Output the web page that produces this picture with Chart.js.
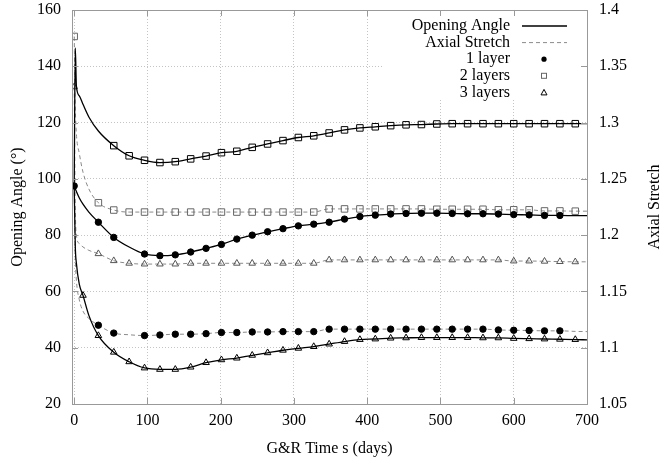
<!DOCTYPE html>
<html>
<head>
<meta charset="utf-8">
<script src="https://cdn.jsdelivr.net/npm/chart.js@4/dist/chart.umd.min.js"></script>
<style>
  html, body { margin: 0; padding: 0; background: #fff; }
</style>
</head>
<body>
<canvas id="chart" width="667" height="461"></canvas>
<script>
// G&R time (days)
const days = [0, 1.5, 3, 7, 12, 20, 33, 54, 75, 96, 117, 138, 159, 180, 201, 222, 243, 264, 285, 306, 327,
  348, 369, 390, 411, 432, 453, 474, 495, 516, 537, 558, 579, 600, 621, 642, 663, 684, 700];

// opening angle (degrees), left axis
const angle1 = [97.5, 96.5, 95.5, 93.2, 91, 88.2, 84.6, 79.2, 75.8, 73.3, 72.7, 73.0, 74.0, 75.3, 76.7, 78.6,
  80.0, 81.2, 82.3, 83.3, 83.9, 84.6, 85.7, 86.6, 87.1, 87.5, 87.7, 87.8, 87.8, 87.7, 87.6, 87.6, 87.5, 87.3,
  87.2, 87.0, 87.0, 86.9, 86.9];
const angle2 = [97.5, 146.5, 133, 129.5, 126.5, 122, 117, 111.8, 108.2, 106.6, 105.8, 106.1, 107.1, 108.1, 109.3,
  109.8, 111.2, 112.4, 113.6, 114.7, 115.3, 116.3, 117.4, 118.1, 118.5, 118.9, 119.2, 119.3, 119.5, 119.6,
  119.6, 119.6, 119.6, 119.6, 119.6, 119.6, 119.6, 119.6, 119.6];
const angle3 = [97.5, 76, 70, 62.5, 58.6, 51.5, 44.3, 38.4, 35.0, 32.8, 32.3, 32.3, 33.1, 34.7, 35.7, 36.3,
  37.3, 38.2, 39.1, 39.8, 40.4, 41.3, 42.2, 42.9, 43.1, 43.4, 43.5, 43.6, 43.6, 43.6, 43.6, 43.5, 43.5, 43.3,
  43.2, 43.1, 43.0, 42.9, 42.8];

// axial stretch, right axis
const stretch1 = [1.2438, 1.18, 1.16, 1.1425, 1.1325, 1.126, 1.12, 1.113, 1.1115, 1.1108, 1.1113, 1.112, 1.112,
  1.1125, 1.1135, 1.1135, 1.114, 1.114, 1.1143, 1.1143, 1.1143, 1.1165, 1.1165, 1.1165, 1.1165, 1.1165, 1.1165,
  1.1165, 1.1165, 1.1165, 1.1165, 1.1165, 1.1158, 1.1155, 1.1153, 1.115, 1.115, 1.1145, 1.1143];
const stretch2 = [1.3765, 1.314, 1.29, 1.2725, 1.256, 1.241, 1.2288, 1.2223, 1.2205, 1.2205, 1.2205, 1.2205,
  1.2205, 1.2205, 1.2205, 1.2205, 1.2205, 1.2205, 1.2205, 1.2205, 1.2205, 1.2233, 1.2233, 1.2233, 1.2233,
  1.2233, 1.2233, 1.2233, 1.223, 1.223, 1.223, 1.223, 1.2225, 1.2225, 1.2225, 1.2215, 1.2215, 1.2213, 1.2213];
const stretch3 = [1.3318, 1.225, 1.2, 1.1925, 1.1895, 1.1865, 1.1835, 1.1773, 1.175, 1.1743, 1.1743, 1.1743,
  1.175, 1.175, 1.175, 1.175, 1.175, 1.175, 1.175, 1.175, 1.175, 1.178, 1.178, 1.178, 1.178, 1.178, 1.178,
  1.178, 1.178, 1.178, 1.178, 1.178, 1.178, 1.177, 1.177, 1.1768, 1.1765, 1.1763, 1.1763];

// days that carry a marker
const markDays = [33, 54, 75, 96, 117, 138, 159, 180, 201, 222, 243, 264, 285, 306, 327, 348, 369, 390, 411,
  432, 453, 474, 495, 516, 537, 558, 579, 600, 621, 642, 663, 684];
const marks1 = markDays.filter(d => d !== 75 && d !== 684);

const xTicks = [0, 100, 200, 300, 400, 500, 600, 700];
const yTicks = [20, 40, 60, 80, 100, 120, 140, 160];
const y2Ticks = [1.05, 1.1, 1.15, 1.2, 1.25, 1.3, 1.35, 1.4];
const y2Labels = ['1.05', '1.1', '1.15', '1.2', '1.25', '1.3', '1.35', '1.4'];

const FONT = 'Liberation Serif, Times New Roman, serif';
const GRAY = '#8a8a8a';

function series(label, values, axis, marks, s) {
  return {
    label: label,
    yAxisID: axis,
    data: days.map((d, i) => ({x: d, y: values[i]})),
    borderColor: s.line,
    borderWidth: s.width,
    borderDash: s.dash || [],
    pointStyle: s.shape,
    pointBackgroundColor: s.fill,
    pointBorderColor: s.edge,
    pointBorderWidth: 1,
    pointRadius: ctx => (ctx.raw && marks.includes(ctx.raw.x)) ? s.size : 0,
    cubicInterpolationMode: 'monotone',
    fill: false
  };
}

const solid = {line: '#000', width: 1.3};
const dashed = {line: GRAY, width: 1, dash: [4, 3]};

const datasets = [
  series('1 layer', angle1, 'y', [0].concat(marks1), {...solid, shape: 'circle', fill: '#000', edge: '#000', size: 3.2}),
  series('2 layers', angle2, 'y', markDays.filter(d => d !== 33), {...solid, shape: 'rect', fill: 'rgba(0,0,0,0)', edge: '#000', size: 4.6}),
  series('3 layers', angle3, 'y', [12].concat(markDays), {...solid, shape: 'triangle', fill: 'rgba(0,0,0,0)', edge: '#000', size: 3.8}),
  series('1 layer AS', stretch1, 'y1', marks1, {...dashed, shape: 'circle', fill: '#000', edge: '#000', size: 3.2}),
  series('2 layers AS', stretch2, 'y1', [0].concat(markDays), {...dashed, shape: 'rect', fill: 'rgba(0,0,0,0)', edge: '#666', size: 4.6}),
  series('3 layers AS', stretch3, 'y1', [0].concat(markDays), {...dashed, shape: 'triangle', fill: 'rgba(0,0,0,0)', edge: '#555', size: 3.8})
];

const legendRows = [
  {text: 'Opening Angle', kind: 'solid'},
  {text: 'Axial Stretch', kind: 'dashed'},
  {text: '1 layer', kind: 'circle'},
  {text: '2 layers', kind: 'rect'},
  {text: '3 layers', kind: 'triangle'}
];

// box, inward ticks, right title and gnuplot-like key
const decor = {
  id: 'decor',
  beforeDatasetsDraw(chart) {
    const {ctx, chartArea} = chart;
    ctx.save();
    ctx.fillStyle = '#fff';
    ctx.fillRect(382, chartArea.top + 1, chartArea.right - 383, 89);
    ctx.restore();
  },
  afterDraw(chart) {
    const {ctx, chartArea: a, scales} = chart;
    ctx.save();
    ctx.strokeStyle = '#999';
    ctx.lineWidth = 1;
    ctx.strokeRect(a.left + 0.5, a.top + 0.5, a.right - a.left, a.bottom - a.top);
    ctx.beginPath();
    xTicks.forEach(v => {
      const px = Math.round(scales.x.getPixelForValue(v)) + 0.5;
      ctx.moveTo(px, a.bottom); ctx.lineTo(px, a.bottom - 6);
      ctx.moveTo(px, a.top); ctx.lineTo(px, a.top + 6);
    });
    yTicks.forEach(v => {
      const py = Math.round(scales.y.getPixelForValue(v)) + 0.5;
      ctx.moveTo(a.left, py); ctx.lineTo(a.left + 6, py);
    });
    y2Ticks.forEach(v => {
      const py = Math.round(scales.y1.getPixelForValue(v)) + 0.5;
      ctx.moveTo(a.right, py); ctx.lineTo(a.right - 6, py);
    });
    ctx.stroke();

    ctx.fillStyle = '#000';
    ctx.font = '16px ' + FONT;
    ctx.translate(655, (a.top + a.bottom) / 2);
    ctx.rotate(-Math.PI / 2);
    ctx.textAlign = 'center';
    ctx.textBaseline = 'middle';
    ctx.fillText('Axial Stretch', 0, 0);
    ctx.restore();

    // key
    ctx.save();
    ctx.font = '16px ' + FONT;
    ctx.textAlign = 'right';
    ctx.textBaseline = 'middle';
    legendRows.forEach((r, i) => {
      const y = 26 + i * 16.6;
      ctx.fillStyle = '#000';
      ctx.fillText(r.text, 510, y);
      ctx.beginPath();
      if (r.kind === 'solid' || r.kind === 'dashed') {
        ctx.strokeStyle = r.kind === 'solid' ? '#000' : GRAY;
        ctx.lineWidth = r.kind === 'solid' ? 1.3 : 1;
        ctx.setLineDash(r.kind === 'solid' ? [] : [4, 3]);
        ctx.moveTo(522, y); ctx.lineTo(567, y);
        ctx.stroke();
        ctx.setLineDash([]);
      } else if (r.kind === 'circle') {
        ctx.fillStyle = '#000';
        ctx.arc(544, y, 2.6, 0, Math.PI * 2);
        ctx.fill();
      } else if (r.kind === 'rect') {
        ctx.strokeStyle = '#666';
        ctx.lineWidth = 1;
        ctx.strokeRect(541.5, y - 2.5, 5, 5);
      } else {
        ctx.strokeStyle = '#000';
        ctx.lineWidth = 1;
        ctx.moveTo(544, y - 3); ctx.lineTo(547, y + 2.5); ctx.lineTo(541, y + 2.5); ctx.closePath();
        ctx.stroke();
      }
    });
    ctx.restore();
  }
};

const tickFont = {family: FONT, size: 16};

new Chart(document.getElementById('chart'), {
  type: 'line',
  data: {datasets: datasets},
  plugins: [decor],
  options: {
    responsive: false,
    animation: false,
    events: [],
    devicePixelRatio: 1,
    layout: {padding: {top: 10, left: 0, right: 0, bottom: 0}},
    plugins: {legend: {display: false}, tooltip: {enabled: false}},
    scales: {
      x: {
        type: 'linear',
        min: -3,
        max: 700,
        afterBuildTicks: s => { s.ticks = xTicks.map(v => ({value: v})); },
        afterFit: s => { s.height = 57; s.paddingLeft = 0; s.paddingRight = 0; },
        grid: {color: '#c4c4c4', lineWidth: 1, drawTicks: false},
        border: {display: false, dash: [1, 2]},
        ticks: {font: tickFont, color: '#000', padding: 7, maxRotation: 0},
        title: {display: true, text: 'G&R Time s (days)', font: tickFont, color: '#000', padding: {top: 3, bottom: 3}}
      },
      y: {
        type: 'linear',
        position: 'left',
        min: 20,
        max: 160,
        afterBuildTicks: s => { s.ticks = yTicks.map(v => ({value: v})); },
        afterFit: s => { s.width = 72; s.paddingTop = 0; s.paddingBottom = 0; },
        grid: {color: '#c4c4c4', lineWidth: 1, drawTicks: false},
        border: {display: false, dash: [1, 2]},
        ticks: {font: tickFont, color: '#000', padding: 11},
        title: {display: true, text: 'Opening Angle (°)', font: tickFont, color: '#000', padding: {top: 8, bottom: 8}}
      },
      y1: {
        type: 'linear',
        position: 'right',
        min: 1.05,
        max: 1.4,
        afterBuildTicks: s => { s.ticks = y2Ticks.map(v => ({value: v})); },
        afterFit: s => { s.width = 80; s.paddingTop = 0; s.paddingBottom = 0; },
        grid: {display: false, drawTicks: false},
        border: {display: false},
        ticks: {font: tickFont, color: '#000', padding: 12,
          callback: v => y2Labels[y2Ticks.findIndex(t => Math.abs(t - v) < 1e-9)]}
      }
    }
  }
});
</script>
</body>
</html>
